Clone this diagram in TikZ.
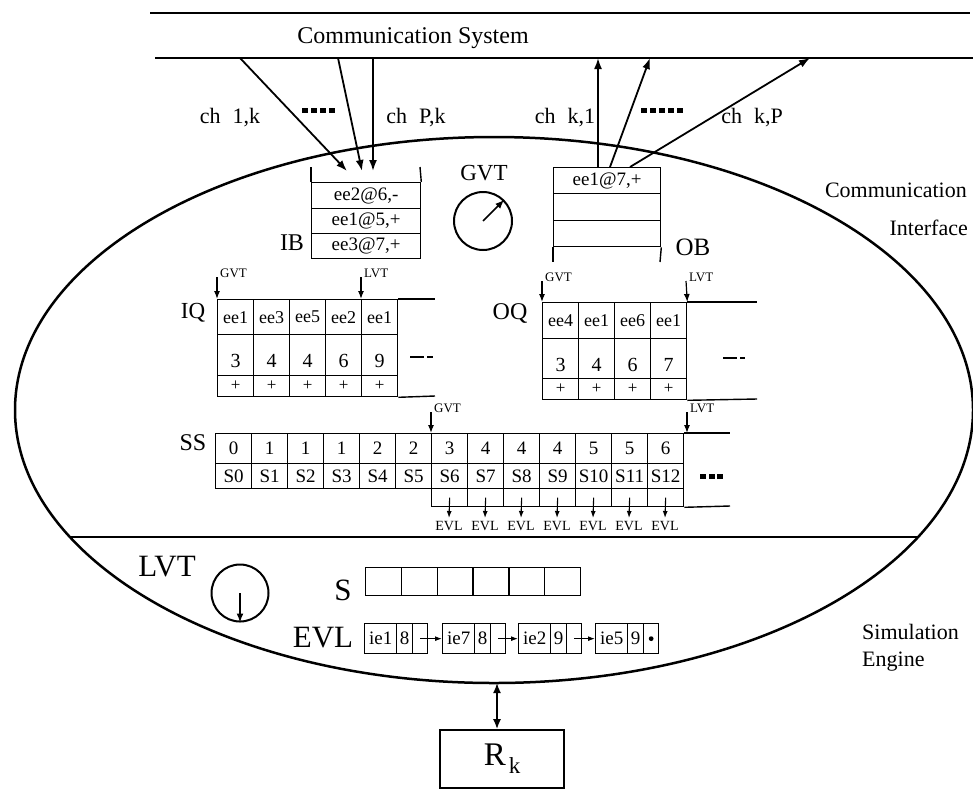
\documentclass[tikz,border=0pt]{standalone}
\usepackage{fontspec}
\setmainfont{Liberation Serif}
\usetikzlibrary{arrows.meta}
\newcommand{\fsz}[1]{\fontsize{#1}{#1}\selectfont}
\begin{document}
\begin{tikzpicture}[x=1pt,y=-1pt,
  heavy/.style={line width=2.5pt},
  frame/.style={line width=1.4pt},
  bigarr/.style={line width=1.8pt,-{Latex[length=11pt,width=8pt]}},
  midarr/.style={line width=1.7pt,-{Latex[length=9pt,width=7pt]}},
  smallarr/.style={line width=1.2pt,-{Latex[length=8pt,width=6pt]}},
  tinyarr/.style={line width=1.1pt,-{Latex[length=7pt,width=5pt]}},
  cell/.style={draw,line width=1.3pt,inner sep=0pt,anchor=north west,minimum width=36pt},
  sq/.style={fill=black,minimum width=6pt,minimum height=5pt,inner sep=0pt},
  small/.style={font=\fsz{13},inner sep=1pt,anchor=south west},
  chl/.style={font=\fsz{22},inner sep=0pt}
]
\useasboundingbox (0,0) rectangle (973,793);

% ---------- communication system ----------
\coordinate (tl1) at (150,13); \coordinate (tr1) at (970,13);
\coordinate (tl2) at (155,58); \coordinate (tr2) at (973,58);
\draw[heavy] (tl1) -- (tr1);
\draw[heavy] (tl2) -- (tr2);
\node[font=\fsz{24}] (cs) at (413,38) {Communication System};

% ---------- ellipse ----------
\draw[heavy] (494,410) ellipse [x radius=479, y radius=273];
\coordinate (sl) at (70,537); \coordinate (sr) at (918,537);
\draw[heavy] (sl) -- (sr);
\node[font=\fsz{22},anchor=east,inner sep=0pt] (ci1) at (967,190) {Communication};
\node[font=\fsz{22},anchor=east,inner sep=0pt] (ci2) at (968,228) {Interface};
\node[font=\fsz{22},anchor=west,inner sep=0pt] (se1) at (862,632) {Simulation};
\node[font=\fsz{22},anchor=west,inner sep=0pt] (se2) at (862,662) {Engine};

% ---------- IB ----------
\node[cell,minimum width=109pt,minimum height=26pt,font=\fsz{19}] (ib1) at (311,182) {ee2@6,-};
\node[cell,minimum width=109pt,minimum height=25pt,font=\fsz{19}] (ib2) at (311,208) {ee1@5,+};
\node[cell,minimum width=109pt,minimum height=25pt,font=\fsz{19}] (ib3) at (311,233) {ee3@7,+};
\coordinate (ibwl) at (311,167); \coordinate (ibwr) at (420,167);
\draw[frame] (ibwl) -- (ib1.north west);
\draw[frame] (ibwr) -- (ib1.north east);
\node[font=\fsz{24},inner sep=0pt] (ibl) at (292,243) {IB};

% incoming channels
\coordinate (in1s) at (240,58); \coordinate (in1e) at (347,171);
\coordinate (in2s) at (338,58); \coordinate (in2e) at (362,171);
\coordinate (in3s) at (373,58); \coordinate (in3e) at (373,171);
\draw[bigarr] (in1s) -- (in1e);
\draw[bigarr] (in2s) -- (in2e);
\draw[bigarr] (in3s) -- (in3e);
\node[chl] (c1k) at (230,118) {ch\hspace{12pt}1,k};
\node[chl] (cPk) at (416,118) {ch\hspace{12pt}P,k};
\foreach \i in {0,...,3} \node[sq] (dl\i) at (305+9*\i,110) {};

% ---------- OB ----------
\node[cell,minimum width=107pt,minimum height=26pt,font=\fsz{19}] (ob1) at (553,167) {ee1@7,+};
\node[cell,minimum width=107pt,minimum height=27pt] (ob2) at (553,193) {};
\node[cell,minimum width=107pt,minimum height=26pt] (ob3) at (553,220) {};
\coordinate (obwl) at (553,262); \coordinate (obwr) at (660,262);
\draw[frame] (ob3.south west) -- (obwl);
\draw[frame] (ob3.south east) -- (obwr);
\node[font=\fsz{25},inner sep=0pt] (obl) at (693,247) {OB};

% outgoing channels
\coordinate (out1s) at (598,167); \coordinate (out1e) at (598,58);
\coordinate (out2s) at (610,167); \coordinate (out2e) at (650,58);
\coordinate (out3s) at (630,167); \coordinate (out3e) at (810,58);
\draw[bigarr] (out1s) -- (out1e);
\draw[bigarr] (out2s) -- (out2e);
\draw[bigarr] (out3s) -- (out3e);
\node[chl] (ck1) at (565,118) {ch\hspace{12pt}k,1};
\node[chl] (ckP) at (752,118) {ch\hspace{12pt}k,P};
\foreach \i in {0,...,4} \node[sq] (dr\i) at (644+9*\i,110) {};

% ---------- GVT clock ----------
\node[font=\fsz{23},inner sep=0pt] (gvtl) at (484,173) {GVT};
\node[draw,circle,line width=2pt,minimum size=58pt,inner sep=0pt] (gvtc) at (483,221) {};
\draw[midarr] (gvtc.center) -- (gvtc.45);

% ---------- IQ ----------
\node[font=\fsz{23},inner sep=0pt] (iql) at (193,313) {IQ};
\foreach \i/\a/\b in {0/ee1/3,1/ee3/4,2/ee5/4,3/ee2/6,4/ee1/9} {
  \node[cell,minimum height=35pt,font=\fsz{18}] (iqa\i) at (217+36*\i,299) {\a};
  \node[cell,minimum height=41pt,font=\fsz{20},text height=24pt,text depth=0pt] (iqb\i) at (217+36*\i,334) {\b};
  \node[cell,minimum height=21pt,font=\fsz{17}] (iqc\i) at (217+36*\i,375) {+};
}
\coordinate (iqte) at (435,299); \coordinate (iqbe) at (435,396);
\draw[frame] (iqa4.north east) -- (iqte);
\draw[frame] (iqc4.south east) -- (iqbe);
\draw[line width=2.2pt] (410,357) -- (424,357) (427,357) -- (433,357);
\coordinate (iqg) at (217,277); \coordinate (iql2) at (361,277);
\draw[smallarr] (iqg) -- (iqa0.north west);
\draw[smallarr] (iql2) -- (iqa4.north west);
\node[small] (iqgl) at (219,279) {GVT};
\node[small] (iqll) at (363,279) {LVT};

% ---------- OQ ----------
\node[font=\fsz{24},inner sep=0pt] (oql) at (510,313) {OQ};
\foreach \i/\a/\b in {0/ee4/3,1/ee1/4,2/ee6/6,3/ee1/7} {
  \node[cell,minimum height=36pt,font=\fsz{18}] (oqa\i) at (542+36*\i,302) {\a};
  \node[cell,minimum height=40pt,font=\fsz{20},text height=26pt,text depth=0pt] (oqb\i) at (542+36*\i,338) {\b};
  \node[cell,minimum height=21pt,font=\fsz{17}] (oqc\i) at (542+36*\i,378) {+};
}
\coordinate (oqte) at (757,302); \coordinate (oqbe) at (757,399);
\draw[frame] (oqa3.north east) -- (oqte);
\draw[frame] (oqc3.south east) -- (oqbe);
\draw[line width=2.2pt] (723,358) -- (737,358) (740,358) -- (745,358);
\coordinate (oqg) at (542,281); \coordinate (oql2) at (686,281);
\draw[smallarr] (oqg) -- (oqa0.north west);
\draw[smallarr] (oql2) -- (oqa3.north east);
\node[small] (oqgl) at (544,283) {GVT};
\node[small] (oqll) at (688,283) {LVT};

% ---------- SS ----------
\node[font=\fsz{24},inner sep=0pt] (ssl) at (193,443) {SS};
\foreach \i/\n in {0/0,1/1,2/1,3/1,4/2,5/2,6/3,7/4,8/4,9/4,10/5,11/5,12/6} {
  \node[cell,minimum height=30pt,font=\fsz{19}] (ssa\i) at (215+36*\i,433) {\n};
  \node[cell,minimum height=25pt,font=\fsz{19}] (ssb\i) at (215+36*\i,463) {S\i};
}
\foreach \i in {6,...,12} {
  \node[cell,minimum height=18pt] (ssc\i) at (215+36*\i,488) {};
  \coordinate (sse\i) at (233+36*\i,518);
  \draw[tinyarr] (ssc\i.center) -- (sse\i);
  \node[font=\fsz{14},inner sep=0pt,anchor=north] (ssev\i) at (233+36*\i,521) {EVL};
}
\coordinate (sste) at (730,433); \coordinate (ssbe) at (730,506);
\draw[frame] (ssa12.north east) -- (sste);
\draw[frame] (ssc12.south east) -- (ssbe);
\coordinate (ssg) at (431,412); \coordinate (ssl2) at (687,412);
\coordinate (ssl2e) at (687,433);
\draw[smallarr] (ssg) -- (ssa6.north west);
\draw[smallarr] (ssl2) -- (ssl2e);
\node[small] (ssgl) at (433,414) {GVT};
\node[small] (ssll) at (689,414) {LVT};
\foreach \i in {0,1,2} \node[sq] (sd\i) at (703+8.5*\i,476) {};

% ---------- simulation engine ----------
\node[font=\fsz{31},inner sep=0pt] (lvtl) at (167,567) {LVT};
\node[draw,circle,line width=2pt,minimum size=57pt,inner sep=0pt] (lvtc) at (240,593) {};
\draw[midarr] (lvtc.center) -- (lvtc.south);

\node[font=\fsz{31},inner sep=0pt] (sl0) at (343,590) {S};
\foreach \i in {0,...,5}
  \node[cell,minimum width=35.8pt,minimum height=28pt] (sb\i) at (365+35.8*\i,567) {};

\node[font=\fsz{31},inner sep=0pt] (evll) at (323,638) {EVL};
\foreach \j/\L/\a/\b in {1/364/ie1/8,2/442/ie7/8,3/518/ie2/9,4/595/ie5/9} {
  \node[cell,minimum width=32pt,minimum height=30pt,font=\fsz{19}] (e\j a) at (\L,623) {\a};
  \node[cell,minimum width=16pt,minimum height=30pt,font=\fsz{19}] (e\j b) at (\L+32,623) {\b};
  \node[cell,minimum width=15pt,minimum height=30pt] (e\j c) at (\L+48,623) {};
}
\fill (e4c.center) circle (2.4pt);
\draw[tinyarr] (e1c.center) -- (e2a.west);
\draw[tinyarr] (e2c.center) -- (e3a.west);
\draw[tinyarr] (e3c.center) -- (e4a.west);

% ---------- R_k ----------
\node[draw,line width=1.6pt,minimum width=124pt,minimum height=58pt,inner sep=0pt] (rk) at (502,759)
  {{\fsz{33}R}\hspace{3pt}\raisebox{-8pt}{\fsz{23}k}};
\coordinate (ebot) at (497,683);
\draw[line width=1.8pt,{Latex[length=10pt,width=8pt]}-{Latex[length=10pt,width=8pt]}] (ebot) -- (ebot |- rk.north);
\end{tikzpicture}
\end{document}
